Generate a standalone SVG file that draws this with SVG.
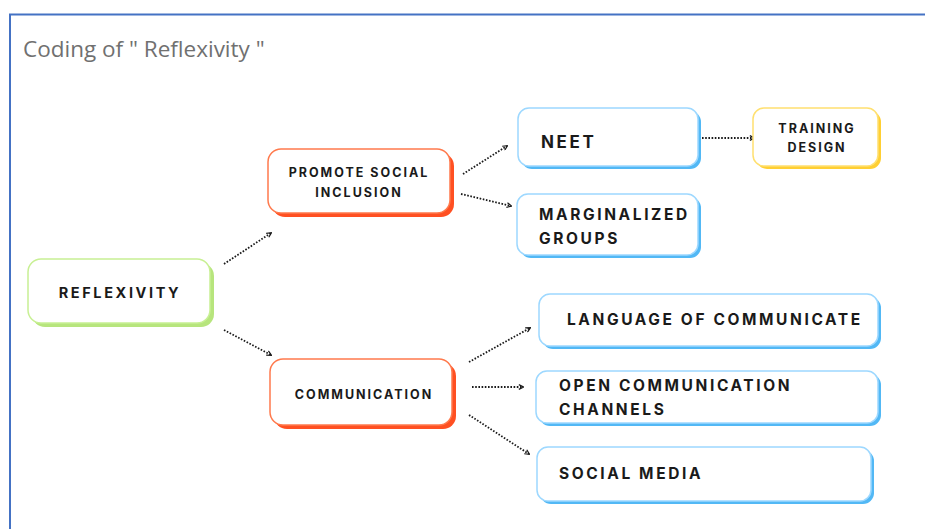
<svg xmlns="http://www.w3.org/2000/svg" width="925" height="529" viewBox="0 0 925 529">
<defs>
<style>
.t{font-family:Inter,"Liberation Sans",sans-serif;font-weight:700;fill:#1a1a1a;letter-spacing:2.6px}
.s{letter-spacing:2px}
.title{font-family:"Open Sans","Liberation Sans",sans-serif;font-size:22.5px;fill:#707070}
.g{fill:#ffffff;stroke:#c8f094;stroke-width:1.5}
.gs{fill:#b7e57d}
.o{fill:#ffffff;stroke:#ff7a4d;stroke-width:1.5}
.os{fill:#ff5022}
.b{fill:#ffffff;stroke:#9dd8ff;stroke-width:1.5}
.bs{fill:#52b8f5}
.y{fill:#ffffff;stroke:#ffe070;stroke-width:1.5}
.ys{fill:#ffcf33}
.c{stroke:#1a1a1a;stroke-width:1.8;stroke-dasharray:1.6 1.6;fill:none;marker-end:url(#ah)}
</style>
<marker id="ah" viewBox="0 0 10 10" refX="8" refY="5" markerWidth="6" markerHeight="6" orient="auto" markerUnits="userSpaceOnUse">
<path d="M1,1 L9,5 L1,9" fill="none" stroke="#1a1a1a" stroke-width="2"/>
</marker>
</defs>
<rect width="925" height="529" fill="#ffffff"/>
<path d="M10,529 L10,14.5 L925,14.5" fill="none" stroke="#4472c4" stroke-width="2"/>
<text class="title" x="23" y="57">Coding of " Reflexivity "</text>

<g id="connectors">
<line class="c" x1="224" y1="264" x2="271" y2="233"/>
<line class="c" x1="224" y1="330" x2="271" y2="355"/>
<line class="c" x1="463" y1="174" x2="507" y2="146"/>
<line class="c" x1="461" y1="194" x2="511" y2="206"/>
<line class="c" x1="702" y1="138" x2="754" y2="138"/>
<line class="c" x1="469" y1="362" x2="530" y2="328"/>
<line class="c" x1="472" y1="387" x2="523" y2="387"/>
<line class="c" x1="469" y1="415" x2="529" y2="454"/>
</g>

<g id="reflexivity">
<rect class="gs" x="32" y="263" width="182" height="64" rx="13"/>
<rect class="g" x="28" y="259" width="182" height="64" rx="13"/>
<text class="t" x="120" y="298" font-size="14.5" text-anchor="middle">REFLEXIVITY</text>
</g>

<g id="promote">
<rect class="os" x="272" y="153" width="182" height="64" rx="13"/>
<rect class="o" x="268" y="149" width="182" height="64" rx="13"/>
<text class="t s" x="359" y="177" font-size="12.5" text-anchor="middle">PROMOTE SOCIAL</text>
<text class="t s" x="359" y="197" font-size="12.5" text-anchor="middle">INCLUSION</text>
</g>

<g id="communication">
<rect class="os" x="274" y="363" width="182" height="66" rx="13"/>
<rect class="o" x="270" y="359" width="182" height="66" rx="13"/>
<text class="t s" x="364" y="399" font-size="12.5" text-anchor="middle">COMMUNICATION</text>
</g>

<g id="neet">
<rect class="bs" x="521" y="111" width="180" height="58" rx="11"/>
<rect class="b" x="518" y="108" width="180" height="58" rx="11"/>
<text class="t" x="541" y="148" font-size="17">NEET</text>
</g>

<g id="training">
<rect class="ys" x="756" y="111" width="125" height="58" rx="11"/>
<rect class="y" x="753" y="108" width="125" height="58" rx="11"/>
<text class="t s" x="817" y="133" font-size="12.5" text-anchor="middle">TRAINING</text>
<text class="t s" x="817" y="152" font-size="12.5" text-anchor="middle">DESIGN</text>
</g>

<g id="marginalized">
<rect class="bs" x="520" y="197" width="181" height="61" rx="11"/>
<rect class="b" x="517" y="194" width="181" height="61" rx="11"/>
<text class="t" x="539" y="220" font-size="15.5">MARGINALIZED</text>
<text class="t" x="539" y="244" font-size="15.5">GROUPS</text>
</g>

<g id="language">
<rect class="bs" x="542" y="297" width="339" height="52" rx="11"/>
<rect class="b" x="539" y="294" width="339" height="52" rx="11"/>
<text class="t" x="567" y="325" font-size="15.5">LANGUAGE OF COMMUNICATE</text>
</g>

<g id="open">
<rect class="bs" x="539" y="374" width="342" height="52" rx="11"/>
<rect class="b" x="536" y="371" width="342" height="52" rx="11"/>
<text class="t" x="559" y="391" font-size="15.5">OPEN COMMUNICATION</text>
<text class="t" x="559" y="415" font-size="15.5">CHANNELS</text>
</g>

<g id="social">
<rect class="bs" x="540" y="450" width="334" height="54" rx="11"/>
<rect class="b" x="537" y="447" width="334" height="54" rx="11"/>
<text class="t" x="559" y="479" font-size="15.5">SOCIAL MEDIA</text>
</g>
</svg>
